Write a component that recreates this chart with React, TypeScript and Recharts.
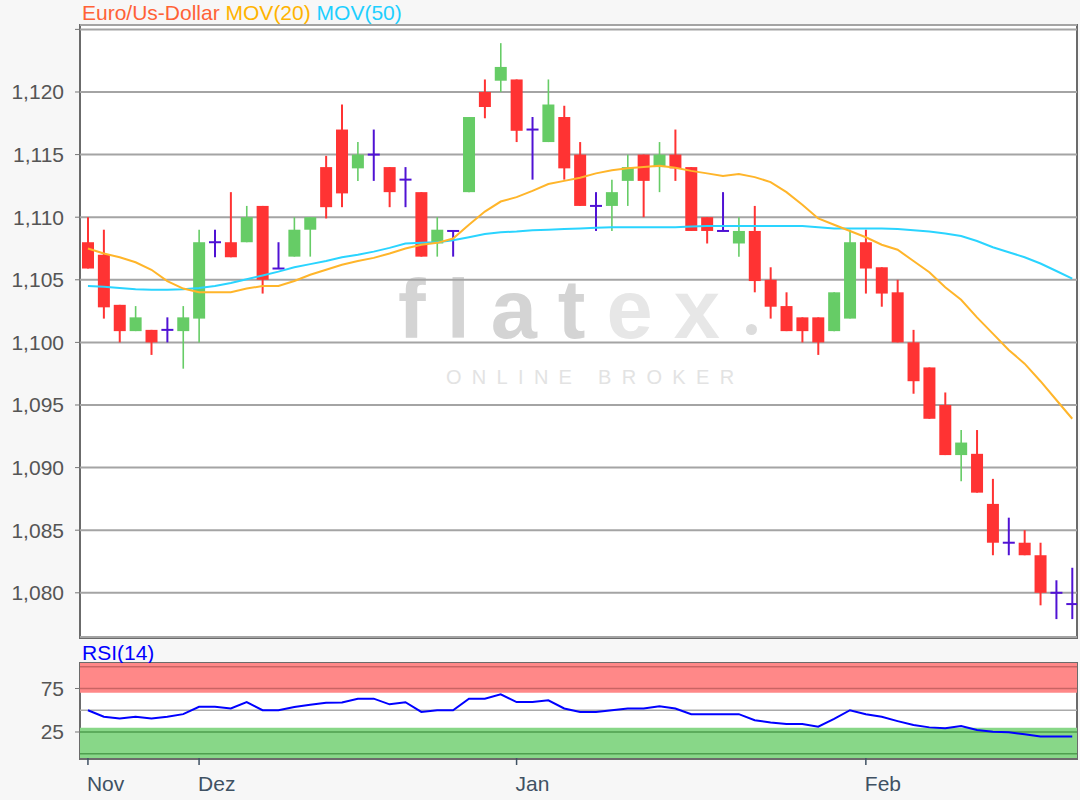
import React from "react";
import {
  ComposedChart,
  Bar,
  Line,
  XAxis,
  YAxis,
  CartesianGrid,
  ReferenceArea,
  ReferenceLine,
} from "recharts";

// EUR/USD Tageskerzen, Ende November bis Februar
const OPEN = [
  1.108, 1.107, 1.103, 1.1009, 1.101, 1.101, 1.1009, 1.1019, 1.108, 1.108,
  1.108, 1.1109, 1.1059, 1.10685, 1.109, 1.114, 1.117, 1.1139, 1.115, 1.114,
  1.113, 1.112, 1.1079, 1.1089, 1.112, 1.12, 1.1209, 1.121, 1.117, 1.116,
  1.118, 1.115, 1.1109, 1.1109, 1.1129, 1.115, 1.114, 1.115, 1.114, 1.11,
  1.1089, 1.1079, 1.1089, 1.105, 1.1029, 1.102, 1.102, 1.1009, 1.1019, 1.108,
  1.106, 1.104, 1.1, 1.098, 1.095, 1.091, 1.0911, 1.0871, 1.084, 1.084,
  1.083, 1.08, 1.0791,
];
const HIGH = [
  1.11, 1.109, 1.103, 1.1029, 1.101, 1.102, 1.1029, 1.109, 1.109, 1.112,
  1.1109, 1.1109, 1.108, 1.11, 1.11, 1.1149, 1.119, 1.116, 1.117, 1.114,
  1.114, 1.112, 1.11, 1.1089, 1.118, 1.121, 1.1239, 1.121, 1.118, 1.121,
  1.1189, 1.116, 1.112, 1.113, 1.115, 1.115, 1.116, 1.117, 1.114, 1.11,
  1.112, 1.11, 1.1109, 1.106, 1.104, 1.102, 1.102, 1.104, 1.109, 1.109,
  1.106, 1.105, 1.101, 1.098, 1.096, 1.093, 1.093, 1.0891, 1.086, 1.085,
  1.084, 1.081, 1.082,
];
const LOW = [
  1.1059, 1.1019, 1.1, 1.1009, 1.099, 1.1, 1.0979, 1.1, 1.1068, 1.1068,
  1.108, 1.1039, 1.1059, 1.10685, 1.10685, 1.1099, 1.1108, 1.1129, 1.1129, 1.1108,
  1.1108, 1.10685, 1.10685, 1.10685, 1.112, 1.1179, 1.12, 1.116, 1.113, 1.116,
  1.113, 1.1109, 1.1089, 1.1089, 1.1109, 1.11, 1.112, 1.1129, 1.1089, 1.1079,
  1.1089, 1.10685, 1.104, 1.1019, 1.1009, 1.1, 1.099, 1.1009, 1.1019, 1.1039,
  1.10285, 1.1, 1.0959, 1.0939, 1.091, 1.0889, 1.088, 1.083, 1.083, 1.083,
  1.079, 1.0779, 1.0779,
];
const CLOSE = [
  1.1059, 1.1028, 1.1009, 1.102, 1.1, 1.101, 1.102, 1.108, 1.108, 1.1068,
  1.11, 1.105, 1.1059, 1.109, 1.11, 1.1108, 1.1119, 1.115, 1.115, 1.112,
  1.113, 1.10685, 1.109, 1.1089, 1.118, 1.1188, 1.122, 1.1169, 1.117, 1.119,
  1.1139, 1.1109, 1.1109, 1.112, 1.114, 1.1129, 1.115, 1.1139, 1.1089, 1.1089,
  1.1089, 1.1089, 1.1049, 1.10285, 1.1009, 1.1009, 1.1, 1.104, 1.108, 1.1059,
  1.1039, 1.1, 1.0969, 1.0939, 1.091, 1.092, 1.088, 1.084, 1.084, 1.083,
  1.08, 1.08, 1.0791,
];

const MOV20 = [
  1.1075, 1.1071, 1.1068, 1.1064, 1.1058, 1.1049, 1.1043, 1.104, 1.104, 1.104,
  1.1043, 1.1045, 1.1045, 1.1049, 1.1054, 1.1058, 1.1062, 1.1065, 1.10675, 1.1071,
  1.1075, 1.1078, 1.10795, 1.1083, 1.1094, 1.11045, 1.11125, 1.1116, 1.1121, 1.11265,
  1.1129, 1.11315, 1.1135, 1.11375, 1.1139, 1.114, 1.1141, 1.11395, 1.1137, 1.1135,
  1.1133, 1.11345, 1.1132, 1.1128, 1.112, 1.111, 1.1099, 1.1094, 1.1089, 1.1084,
  1.1078, 1.1074, 1.1065, 1.1056, 1.1044, 1.1034, 1.102, 1.1007, 1.0994, 1.0983,
  1.0969, 1.0954, 1.0939,
];
const MOV50 = [
  1.1045, 1.10445, 1.10435, 1.10425, 1.1042, 1.1042, 1.10425, 1.10435, 1.1045, 1.10475,
  1.10505, 1.10535, 1.10565, 1.106, 1.10625, 1.1065, 1.1068, 1.107, 1.10725, 1.10755,
  1.1079, 1.10795, 1.108, 1.10815, 1.1084, 1.10865, 1.1088, 1.10885, 1.10895, 1.109,
  1.10905, 1.1091, 1.10915, 1.1092, 1.1092, 1.1092, 1.1092, 1.1092, 1.10925, 1.1093,
  1.1093, 1.1093, 1.1093, 1.1093, 1.1093, 1.1093, 1.1092, 1.1091, 1.1091, 1.1091,
  1.1091, 1.10905, 1.10895, 1.10885, 1.1087, 1.1085, 1.1081, 1.1076, 1.1072, 1.1068,
  1.1063, 1.1057, 1.1051,
];
const RSI14 = [
  50, 42.5, 40.5, 42.5, 40.5, 42.5, 45.5, 54, 54, 52,
  59.4, 50, 50, 53.8, 56.3, 58.7, 59, 63.3, 63.3, 56.8,
  59.2, 48.1, 50, 50, 63.3, 63.3, 68.2, 59.4, 59.4, 61.4,
  52, 48.1, 48.1, 50, 52, 52, 54.5, 52, 45.5, 45.5,
  45.5, 45.5, 38.6, 36, 34.1, 34.1, 31, 40, 50, 45.5,
  42.4, 37.5, 33, 30.3, 29.2, 31.8, 27.3, 25.4, 24.7, 22.4,
  19.7, 19.7, 19.7,
];

const MONTH_TICKS = [0, 7, 27, 49];
const MONTH_LABELS = ["Nov", "Dez", "Jan", "Feb"];
const PRICE_TICKS = [1.08, 1.085, 1.09, 1.095, 1.1, 1.105, 1.11, 1.115, 1.12, 1.125];
const RSI_TICKS = [25, 75];

const FONT = "'Liberation Sans', Arial, sans-serif";
const FS = 21;
const UP = "#66CC66";
const DOWN = "#FF3333";
const DOJI = "#5012D4";
const X_DOMAIN = [-0.5, 62.3];

const priceData = OPEN.map((o, i) => ({
  i,
  open: o,
  high: HIGH[i],
  low: LOW[i],
  close: CLOSE[i],
  ma20: MOV20[i],
  ma50: MOV50[i],
}));

const rsiData = RSI14.map((v, i) => ({ i, rsi: v }));

const fmtPrice = (v: number) =>
  v > 1.1249 ? "" : v.toFixed(3).replace(".", ",");

const Candle = (props: any) => {
  const { x, y, width, height, payload } = props;
  const { open, close, high, low } = payload;
  const cx = x + width / 2;
  const top = Math.min(y, y + height);
  const span = Math.abs(height);
  const toY = (v: number) => top + ((high - v) / (high - low)) * span;
  const doji = Math.abs(close - open) < 1e-9;
  const up = close > open;
  const color = doji ? DOJI : up ? UP : DOWN;
  const yo = toY(open);
  const yc = toY(close);
  return (
    <g>
      <line
        x1={cx}
        x2={cx}
        y1={top}
        y2={top + span}
        stroke={color}
        strokeWidth={up && !doji ? 1.6 : 2}
      />
      {doji ? (
        <line x1={cx - 6} x2={cx + 6} y1={yo} y2={yo} stroke={color} strokeWidth={2} />
      ) : (
        <rect
          x={cx - 6}
          y={Math.min(yo, yc)}
          width={12}
          height={Math.max(Math.abs(yo - yc), 1)}
          fill={color}
        />
      )}
    </g>
  );
};

const MonthTick = (props: any) => {
  const { x, y, payload } = props;
  const idx = MONTH_TICKS.indexOf(payload.value);
  return (
    <text x={x - 1} y={y} dy={24} textAnchor="start" fill="#3F5163" fontSize={FS} fontFamily={FONT}>
      {MONTH_LABELS[idx]}
    </text>
  );
};

const frame = (top: number, height: number): React.CSSProperties => ({
  position: "absolute",
  left: 79,
  top,
  width: 999,
  height,
  boxSizing: "border-box",
  border: "2px solid #6B6B6B",
  background: "#FFFFFF",
});

export default function App() {
  return (
    <div
      style={{
        position: "absolute",
        left: 0,
        top: 0,
        width: 1080,
        height: 800,
        background: "#F7F7F7",
        fontFamily: FONT,
        overflow: "hidden",
      }}
    >
      <div style={frame(24, 615)} />
      <div style={frame(662, 98)} />

      {/* flatex watermark */}
      <div
        style={{
          position: "absolute",
          left: 398,
          top: 262,
          fontSize: 83,
          fontWeight: 700,
          letterSpacing: 21,
          lineHeight: "96px",
          color: "#D4D4D4",
          whiteSpace: "nowrap",
        }}
      >
        flat<span style={{ color: "#E7E7E7" }}>ex</span>
      </div>
      <div
        style={{
          position: "absolute",
          left: 746,
          top: 324,
          width: 11,
          height: 11,
          borderRadius: 6,
          background: "#DCDCDC",
        }}
      />
      <div
        style={{
          position: "absolute",
          left: 446,
          top: 365,
          fontSize: 20,
          letterSpacing: 10.3,
          lineHeight: "24px",
          color: "#E3E3E3",
          whiteSpace: "nowrap",
        }}
      >
        ONLINE BROKER
      </div>

      <div
        style={{
          position: "absolute",
          left: 82,
          top: 1,
          fontSize: FS,
          lineHeight: "24px",
          whiteSpace: "nowrap",
        }}
      >
        <span style={{ color: "#FF6236" }}>Euro/Us-Dollar</span>{" "}
        <span style={{ color: "#FFB300" }}>MOV(20)</span>{" "}
        <span style={{ color: "#1ECFFF" }}>MOV(50)</span>
      </div>
      <div
        style={{
          position: "absolute",
          left: 82,
          top: 641,
          fontSize: FS,
          lineHeight: "24px",
          color: "#0000FF",
        }}
      >
        RSI(14)
      </div>

      <div style={{ position: "absolute", left: 0, top: 0 }}>
        <ComposedChart
          width={1080}
          height={645}
          data={priceData}
          margin={{ top: 25, right: 3, left: 0, bottom: 8 }}
        >
          <CartesianGrid vertical={false} stroke="#A4A4A4" strokeWidth={2} />
          <XAxis type="number" dataKey="i" domain={X_DOMAIN} allowDataOverflow hide />
          <YAxis
            type="number"
            domain={[1.07647, 1.12535]}
            ticks={PRICE_TICKS}
            allowDataOverflow
            interval={0}
            width={80}
            tickSize={5}
            tickMargin={11}
            tickFormatter={fmtPrice}
            tick={{ fill: "#555555", fontSize: FS, fontFamily: FONT }}
            tickLine={{ stroke: "#777777" }}
            axisLine={false}
          />
          <Bar
            dataKey={(d: any) => [d.low, d.high]}
            barSize={12}
            shape={<Candle />}
            isAnimationActive={false}
          />
          <Line
            type="linear"
            dataKey="ma50"
            stroke="#2AD4FF"
            strokeWidth={2}
            dot={false}
            isAnimationActive={false}
          />
          <Line
            type="linear"
            dataKey="ma20"
            stroke="#FFB52A"
            strokeWidth={2}
            dot={false}
            isAnimationActive={false}
          />
        </ComposedChart>
      </div>

      <div style={{ position: "absolute", left: 0, top: 645 }}>
        <ComposedChart
          width={1080}
          height={155}
          data={rsiData}
          margin={{ top: 18, right: 3, left: 0, bottom: 5 }}
        >
          <ReferenceArea y1={70} y2={104.3} fill="#FF8888" fillOpacity={1} stroke="none" />
          <ReferenceArea y1={-4.9} y2={30} fill="#88D788" fillOpacity={1} stroke="none" />
          <ReferenceLine y={100} stroke="#C96464" strokeWidth={1.5} />
          <ReferenceLine y={75} stroke="#C96464" strokeWidth={1.5} />
          <ReferenceLine y={50} stroke="#AAAAAA" strokeWidth={1.5} />
          <ReferenceLine y={25} stroke="#4E9E4E" strokeWidth={1.5} />
          <ReferenceLine y={0} stroke="#4E9E4E" strokeWidth={1.5} />
          <XAxis
            type="number"
            dataKey="i"
            domain={X_DOMAIN}
            allowDataOverflow
            ticks={MONTH_TICKS}
            interval={0}
            height={37}
            tickSize={7}
            tick={<MonthTick />}
            tickLine={{ stroke: "#3F5163", strokeWidth: 1.5 }}
            axisLine={false}
          />
          <YAxis
            type="number"
            domain={[-4.9, 104.3]}
            ticks={RSI_TICKS}
            allowDataOverflow
            interval={0}
            width={80}
            tickSize={5}
            tickMargin={11}
            tick={{ fill: "#555555", fontSize: FS, fontFamily: FONT }}
            tickLine={{ stroke: "#777777" }}
            axisLine={false}
          />
          <Line
            type="linear"
            dataKey="rsi"
            stroke="#0000FF"
            strokeWidth={2}
            dot={false}
            isAnimationActive={false}
          />
        </ComposedChart>
      </div>
    </div>
  );
}
